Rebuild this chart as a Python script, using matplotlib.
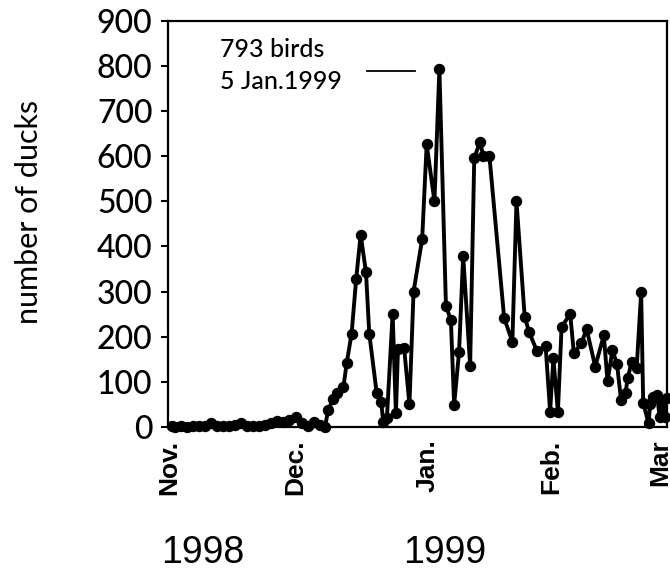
import matplotlib
matplotlib.use("Agg")
import matplotlib.pyplot as plt

# days after 1 Nov 1998
days = [0, 0.7, 2.2, 3.7, 5.1, 6.6, 8.0, 9.5, 11.0, 12.4, 13.9, 15.4, 16.8,
        18.3, 19.8, 21.2, 22.7, 24.1, 25.6, 27.1, 28.5, 30.2, 31.7, 33.2,
        34.6, 36.1, 37.3, 38.1, 39.3, 40.2, 41.8, 42.6, 43.8, 44.9, 46.0,
        47.3, 48.1, 49.9, 51.0, 51.5, 52.4, 53.8, 54.6, 55.1, 56.6, 57.9,
        58.9, 61.0, 62.1, 64.0, 65.2, 66.8, 68.0, 68.8, 70.0, 71.0, 72.7,
        73.7, 75.1, 75.9, 77.4, 81.0, 83.0, 84.0, 86.0, 87.1, 89.0, 91.1,
        92.2, 93.0, 94.1, 95.0, 97.1, 98.0, 99.8, 101.1, 103.2, 105.3,
        106.2, 107.4, 108.5, 109.5, 110.6, 111.1, 112.1, 113.3, 114.4,
        114.9, 116.2, 116.6, 117.4, 118.3, 118.9, 119.5, 120.2, 120.6]
ducks = [2, 0, 2, 0, 3, 2, 3, 8, 3, 2, 3, 4, 9,
         3, 2, 3, 4, 8, 14, 10, 16, 22, 8, 2,
         12, 4, 0, 38, 62, 75, 88, 142, 207, 327, 426,
         343, 207, 76, 56, 12, 20, 251, 30, 172, 175, 50,
         300, 416, 626, 500, 793, 268, 237, 49, 167, 379, 136,
         596, 631, 601, 600, 241, 189, 500, 244, 210, 168, 180,
         34, 152, 34, 222, 250, 163, 185, 217, 134, 203,
         101, 170, 140, 60, 75, 108, 144, 130, 298,
         54, 8, 52, 67, 70, 23, 60, 23, 64]

month_pos = [-0.7, 30.0, 62.2, 92.4, 119.0]
month_labels = ["Nov.", "Dec.", "Jan.", "Feb.", "Mar"]
yticks = list(range(0, 901, 100))
sans = ["Lato", "DejaVu Sans"]

fig = plt.figure(figsize=(6.7, 5.71), dpi=100)
ax = fig.add_axes([0.2503, 0.2522, 0.7452, 0.7115])

ax.plot(days, ducks, color="black", lw=2.8, marker="o", ms=7.2,
        mfc="black", mec="black", clip_on=False, zorder=3)

ax.set_xlim(-1.05, 120.7)
ax.set_ylim(0, 900)
ax.set_yticks(yticks)
ax.set_yticklabels([str(v) for v in yticks], family=sans, fontsize=23,
                   fontweight="medium")
ax.tick_params(axis="y", direction="out", length=5, width=1.5, pad=6)
ax.set_xticks(month_pos)
ax.set_xticklabels(month_labels, rotation=90, fontsize=19, fontweight="bold",
                   family=["Liberation Sans", "DejaVu Sans"], va="top")
ax.tick_params(axis="x", length=0, pad=9)
for s in ax.spines.values():
    s.set_linewidth(1.6)

ax.set_ylabel("number of ducks", family=sans, fontsize=22)
ax.yaxis.set_label_coords(-0.25, 0.53)

# annotation of the peak
ax.text(0.105, 0.958, "793 birds", transform=ax.transAxes, va="top",
        ha="left", fontsize=18, family=sans, fontweight="medium")
ax.text(0.105, 0.878, "5 Jan.1999", transform=ax.transAxes, va="top",
        ha="left", fontsize=18, family=sans, fontweight="medium")
ax.plot([47.6, 59.3], [789, 789], color="black", lw=1.3)

fig.text(203 / 670, 1 - 553 / 571, "1998", ha="center", va="center",
         fontsize=27, family=["Liberation Sans", "DejaVu Sans"])
fig.text(445 / 670, 1 - 553 / 571, "1999", ha="center", va="center",
         fontsize=27, family=["Liberation Sans", "DejaVu Sans"])

fig.savefig("out.png", dpi=100)
